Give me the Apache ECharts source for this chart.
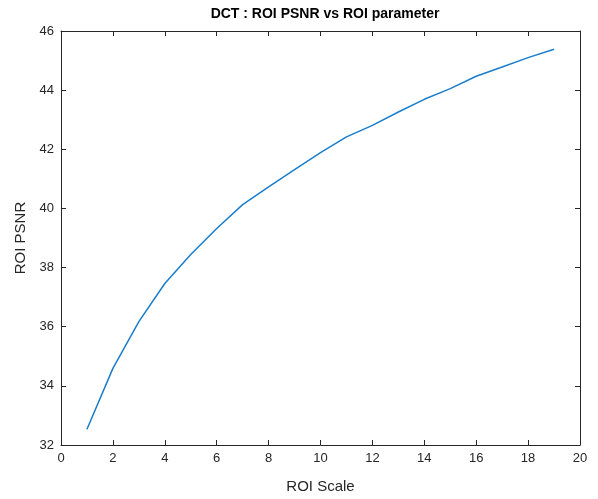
<!DOCTYPE html>
<html>
<head>
<meta charset="utf-8">
<script src="https://cdn.jsdelivr.net/npm/echarts@6/dist/echarts.min.js"></script>
<style>
  html, body { margin: 0; padding: 0; background: #fff; }
  #chart { width: 598px; height: 499px; }
</style>
</head>
<body>
<div id="chart"></div>
<script>
// ROI scale values and measured PSNR
const roiScale = [1, 2, 3, 4, 5, 6, 7, 8, 9, 10, 11, 12, 13, 14, 15, 16, 17, 18, 19];
const roiPsnr = [32.53, 34.59, 36.17, 37.46, 38.44, 39.32, 40.13, 40.73, 41.31, 41.89,
                 42.42, 42.81, 43.26, 43.69, 44.05, 44.47, 44.78, 45.10, 45.38];

const axisColor = "#262626";
const fontFamily = "'Liberation Sans', Arial, sans-serif";

const boxAxis = (extra) => Object.assign({
  type: "value",
  axisLine: { show: true, onZero: false, lineStyle: { color: axisColor, width: 1 } },
  axisTick: { show: true, inside: true, length: 5, lineStyle: { color: axisColor } },
  splitLine: { show: false },
  axisLabel: { show: false },
}, extra);

const chart = echarts.init(document.getElementById("chart"));
chart.setOption({
  animation: false,
  title: {
    text: "DCT : ROI PSNR vs ROI parameter",
    left: 320,
    textAlign: "center",
    top: 2,
    textStyle: { fontFamily, fontSize: 14, fontWeight: "bold", color: "#000" },
  },
  grid: { left: 61, right: 18, top: 31, bottom: 53 },
  xAxis: [
    boxAxis({
      min: 0, max: 20, interval: 2,
      position: "bottom",
      name: "ROI Scale",
      nameLocation: "middle",
      nameGap: 34,
      nameTextStyle: { fontFamily, fontSize: 15, color: axisColor },
      axisLabel: { show: true, fontFamily, fontSize: 13, color: axisColor, margin: 7 },
    }),
    boxAxis({ min: 0, max: 20, interval: 2, position: "top" }),
  ],
  yAxis: [
    boxAxis({
      min: 32, max: 46, interval: 2,
      position: "left",
      name: "ROI PSNR",
      nameLocation: "middle",
      nameGap: 31,
      nameTextStyle: { fontFamily, fontSize: 15, color: axisColor },
      axisLabel: { show: true, fontFamily, fontSize: 13, color: axisColor, margin: 7 },
    }),
    boxAxis({ min: 32, max: 46, interval: 2, position: "right" }),
  ],
  series: [
    {
      type: "line",
      data: roiScale.map((x, i) => [x, roiPsnr[i]]),
      showSymbol: false,
      lineStyle: { color: "#1a7dcc", width: 1.5 },
    },
  ],
});
</script>
</body>
</html>
